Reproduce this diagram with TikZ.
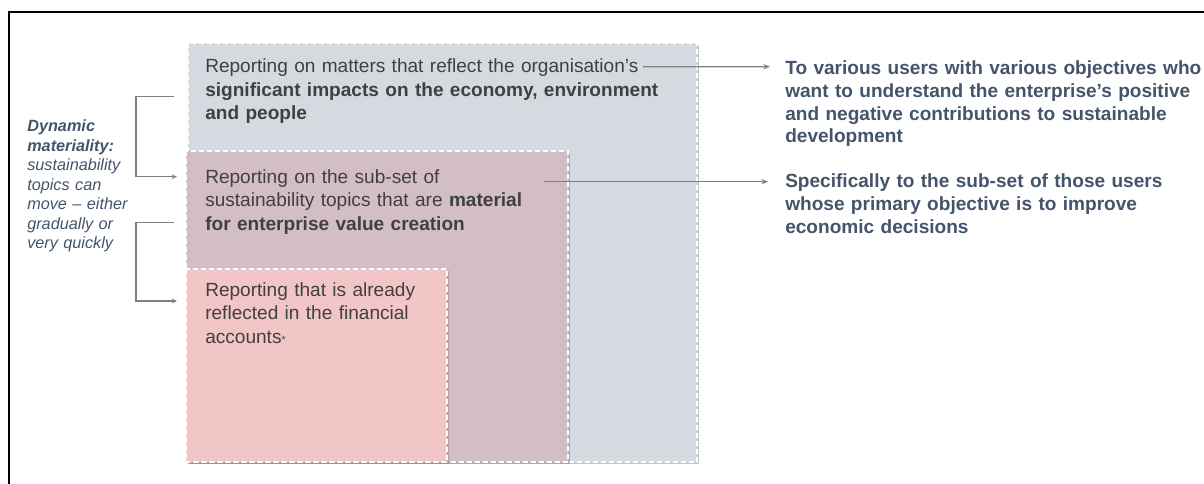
\documentclass[tikz,border=0pt]{standalone}
\usepackage{fontspec}
\setmainfont{Liberation Sans}
\usetikzlibrary{arrows.meta,shadows}

\begin{document}
\begin{tikzpicture}[x=0.75pt,y=-0.75pt,
  panel/.style={draw=white, line width=1.1pt, dash pattern=on 3.75pt off 2.25pt,
    drop shadow={opacity=0.45, shadow xshift=1.6pt, shadow yshift=-1.6pt}},
  bodytext/.style={inner sep=0pt, anchor=base west, align=left, text=bodygrey,
    font=\fontsize{14.3}{17.6}\selectfont},
  usertext/.style={inner sep=0pt, anchor=base west, align=left, text=slate,
    font=\fontsize{14.3}{17}\selectfont\bfseries},
  sidetext/.style={inner sep=0pt, anchor=base west, align=left, text=slate,
    font=\fontsize{12.2}{14.6}\selectfont\itshape},
  pointer/.style={draw=linegrey, line width=0.9pt, -{Stealth[length=5pt,width=4pt]}},
  bracket/.style={draw=linegrey, line width=1.2pt, -{Stealth[length=4pt,width=3.5pt]}}]
\definecolor{greybox}{RGB}{213,217,224}
\definecolor{mauvebox}{RGB}{212,190,198}
\definecolor{pinkbox}{RGB}{242,198,198}
\definecolor{bodygrey}{RGB}{64,64,64}
\definecolor{slate}{RGB}{68,84,106}
\definecolor{linegrey}{RGB}{128,128,128}

\useasboundingbox (0,0) rectangle (1204,484);
\draw [line width=1.1pt] (9,484) -- (9,12) -- (1204,12);

\draw [panel, fill=greybox] (188,43) rectangle (697,462);
\draw [panel, fill=mauvebox] (186,151) rectangle (568,462);
\draw [panel, fill=pinkbox] (186,269) rectangle (447,462);

\node [bodytext, text width=470*0.75pt] (impacts) at (205,73)
  {Reporting on matters that reflect the organisation’s\\
   \textbf{significant impacts on the economy, environment}\\
   \textbf{and people}};
\node [bodytext, text width=350*0.75pt] (material) at (205,183.5)
  {Reporting on the sub-set of\\
   sustainability topics that are \textbf{material}\\
   \textbf{for enterprise value creation}};
\node [bodytext, text width=240*0.75pt] (accounts) at (205,296.5)
  {Reporting that is already\\
   reflected in the financial\\
   accounts{\fontsize{8}{8}\selectfont *}};

\node [usertext, text width=430*0.75pt] (allusers) at (785,75)
  {To various users with various objectives who\\
   want to understand the enterprise’s positive\\
   and negative contributions to sustainable\\
   development};
\node [usertext, text width=430*0.75pt] (someusers) at (785,187.7)
  {Specifically to the sub-set of those users\\
   whose primary objective is to improve\\
   economic decisions};

\node [sidetext, text width=115*0.75pt] (dynamic) at (27,131.7)
  {\textbf{Dynamic}\\
   \textbf{materiality:}\\
   sustainability\\
   topics can\\
   move – either\\
   gradually or\\
   very quickly};

\coordinate (from impacts) at (643,66.7);
\coordinate (from material) at (544,181.7);
\draw [pointer] (from impacts) -- ([shift={(-15,-8.3)}]allusers.base west);
\draw [pointer] (from material) -- ([shift={(-17,-6)}]someusers.base west);

\coordinate (upper top) at (174,96.7);
\coordinate (upper end) at (177,176.7);
\coordinate (lower top) at (174,222.5);
\coordinate (lower end) at (177,301);
\draw [bracket] (upper top) -- ++(-38,0) |- (upper end);
\draw [bracket] (lower top) -- ++(-38,0) |- (lower end);
\end{tikzpicture}
\end{document}
